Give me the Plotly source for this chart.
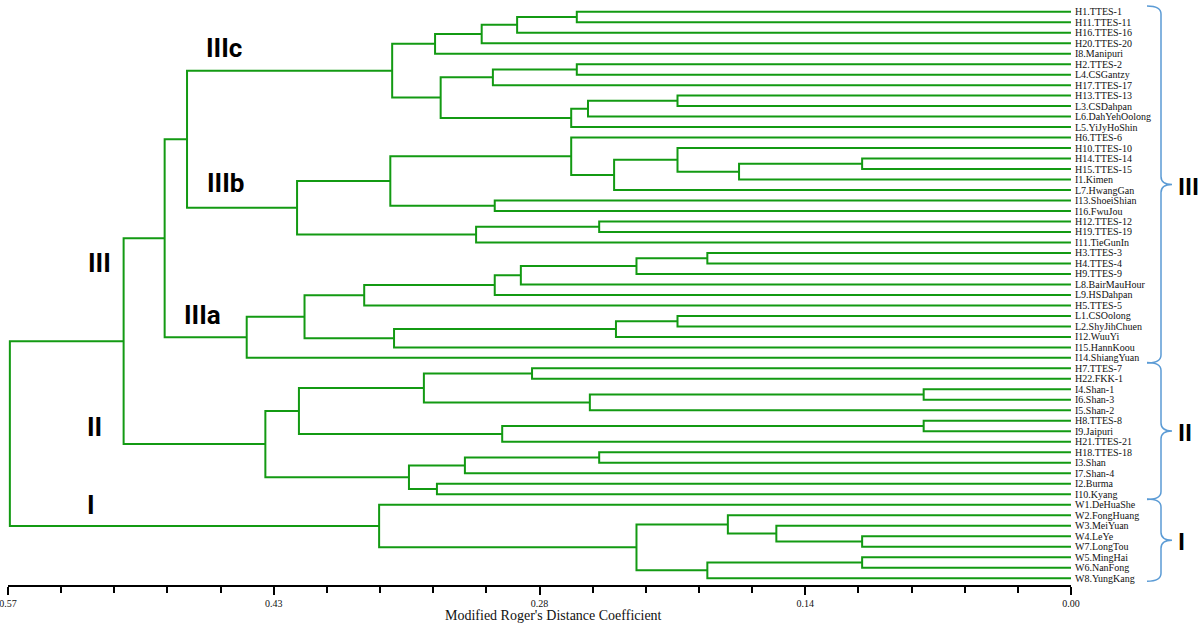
import plotly.graph_objects as go
import numpy as np

W, H = 1200, 624

# ---------------- data ----------------
leaves = [
    "H1.TTES-1", "H11.TTES-11", "H16.TTES-16", "H20.TTES-20", "I8.Manipuri",
    "H2.TTES-2", "L4.CSGantzy", "H17.TTES-17", "H13.TTES-13", "L3.CSDahpan",
    "L6.DahYehOolong", "L5.YiJyHoShin", "H6.TTES-6", "H10.TTES-10", "H14.TTES-14",
    "H15.TTES-15", "I1.Kimen", "L7.HwangGan", "I13.ShoeiShian", "I16.FwuJou",
    "H12.TTES-12", "H19.TTES-19", "I11.TieGunIn", "H3.TTES-3", "H4.TTES-4",
    "H9.TTES-9", "L8.BairMauHour", "L9.HSDahpan", "H5.TTES-5", "L1.CSOolong",
    "L2.ShyJihChuen", "I12.WuuYi", "I15.HannKoou", "I14.ShiangYuan", "H7.TTES-7",
    "H22.FKK-1", "I4.Shan-1", "I6.Shan-3", "I5.Shan-2", "H8.TTES-8",
    "I9.Jaipuri", "H21.TTES-21", "H18.TTES-18", "I3.Shan", "I7.Shan-4",
    "I2.Burma", "I10.Kyang", "W1.DeHuaShe", "W2.FongHuang", "W3.MeiYuan",
    "W4.LeYe", "W7.LongTou", "W5.MingHai", "W6.NanFong", "W8.YungKang",
]

merge_id = ["c1", "c2", "c3", "c4", "c5", "c6", "c7", "c8", "c9", "c10", "IIIc",
            "b1", "b2", "b3", "b4", "b5", "b6", "b7", "b8", "b9", "IIIb", "IIIcb",
            "a1", "a2", "a3", "a4", "a5", "a6", "a7", "a8", "a9", "IIIa", "III",
            "d1", "d2", "d3", "d4", "d5", "d6", "d7", "d8", "d9", "d10", "d11", "II", "III_II",
            "w1", "w2", "w3", "w4", "w5", "w6", "I", "root"]
merge_a = ["H1", "c1", "c2", "c3", "H2", "c5", "H13", "c7", "c8", "c6", "c4",
           "H14", "b1", "H10", "b3", "H6", "I13", "b5", "H12", "b8", "b7", "IIIc",
           "H3", "a1", "a2", "a3", "a4", "L1", "a6", "a7", "a5", "a9", "IIIcb",
           "H7", "I4", "d2", "d1", "H8", "d5", "d4", "H18", "d8", "I2", "d9", "d7", "III",
           "W4", "W3", "W2", "W5", "w4", "w3", "W1", "III_II"]
merge_b = ["H11", "H16", "H20", "I8", "L4", "H17", "L3", "L6", "L5", "c9", "c10",
           "H15", "I1", "b2", "L7", "b4", "I16", "b6", "H19", "I11", "b9", "IIIb",
           "H4", "H9", "L8", "L9", "H5", "L2", "I12", "I15", "a8", "I14", "IIIa",
           "H22", "I6", "I5", "d3", "I9", "H21", "d6", "I3", "I7", "I10", "d10", "d11", "II",
           "W7", "w1", "w2", "W6", "W8", "w5", "w6", "I"]
merge_h = [0.265, 0.297, 0.316, 0.341, 0.265, 0.310, 0.211, 0.259, 0.268, 0.338, 0.364,
           0.112, 0.178, 0.211, 0.245, 0.268, 0.309, 0.365, 0.253, 0.319, 0.415, 0.474,
           0.195, 0.233, 0.295, 0.309, 0.379, 0.211, 0.244, 0.363, 0.411, 0.442, 0.486,
           0.289, 0.079, 0.258, 0.347, 0.079, 0.305, 0.414, 0.253, 0.325, 0.340, 0.355, 0.432, 0.508,
           0.112, 0.158, 0.184, 0.112, 0.195, 0.233, 0.371, 0.569]

tick_vals = [0.57, 0.4275, 0.285, 0.1425, 0.0]
tick_text = ["0.57", "0.43", "0.28", "0.14", "0.00"]

sub_clusters = ["IIIc", "IIIb", "III", "IIIa", "II", "I"]
groups = ["III", "II", "I"]
group_first = ["H1", "H7", "W1"]
group_last = ["I14", "I10", "W8"]

# ---------------- build dendrogram ----------------
ids = [s.split(".")[0] for s in leaves]
pos = {k: i for i, k in enumerate(ids)}
hgt = {k: 0.0 for k in ids}
xs, ys = [], []
for nid, a, b, h in zip(merge_id, merge_a, merge_b, merge_h):
    ya, yb = pos[a], pos[b]
    xs += [hgt[a], h, h, hgt[b], None]
    ys += [ya, ya, yb, yb, None]
    pos[nid] = (ya + yb) / 2.0
    hgt[nid] = h

GREEN = "#139a13"
fig = go.Figure()
fig.add_trace(go.Scatter(x=xs, y=ys, mode="lines",
                         line=dict(color=GREEN, width=2),
                         hoverinfo="skip", showlegend=False))

# pixel geometry
X0, X1 = 8, 1071          # axis extent in px
Y_AXIS = 585              # axis line px
LEAF0, LEAF_STEP = 11.7, 10.49
top_val = -LEAF0 / LEAF_STEP
bot_val = (Y_AXIS - LEAF0) / LEAF_STEP


def px(x):
    return x / W


def py(y):
    return 1 - y / H


def leaf_px(v):
    return LEAF0 + LEAF_STEP * v


annotations = []
SERIF = "Liberation Serif"
for i, lab in enumerate(leaves):
    annotations.append(dict(x=0, y=i, xref="x", yref="y", text=lab, showarrow=False,
                            xanchor="left", yanchor="middle", xshift=2,
                            font=dict(family=SERIF, size=10, color="#111")))

annotations.append(dict(x=px(553), y=py(615), xref="paper", yref="paper",
                        text="Modified Roger's Distance Coefficient", showarrow=False,
                        xanchor="center", yanchor="middle",
                        font=dict(family=SERIF, size=14, color="#111")))

# sub-cluster labels on the tree
label_xy = {"IIIc": (204, 48), "IIIb": (205, 183), "III": (86, 263),
            "IIIa": (182, 315), "II": (85, 427), "I": (85, 505)}
BOLD = dict(family="Roboto", size=26, color="black")
BOLD_R = dict(family="Roboto", size=24, color="black")
for name in sub_clusters:
    lx, ly = label_xy[name]
    annotations.append(dict(x=px(lx), y=py(ly), xref="paper", yref="paper",
                            text="<b>%s</b>" % name, showarrow=False,
                            xanchor="left", yanchor="middle", font=BOLD))

# braces on the right
shapes = []
BLUE = "#5b9bd5"
XV, XE, XT, R = 1161, 1147, 1172, 8


def brace(y0, y1):
    ym = (y0 + y1) / 2.0
    pts = [("M", [(XE, y0)]),
           ("Q", [(XV, y0), (XV, y0 + R)]),
           ("L", [(XV, ym - R)]),
           ("Q", [(XV, ym), (XT, ym)]),
           ("Q", [(XV, ym), (XV, ym + R)]),
           ("L", [(XV, y1 - R)]),
           ("Q", [(XV, y1), (XE, y1)])]
    s = ""
    for cmd, pl in pts:
        s += cmd + " " + " ".join("%.5f,%.5f" % (px(a), py(b)) for a, b in pl) + " "
    return s.strip(), ym


for g, f, l in zip(groups, group_first, group_last):
    y0 = leaf_px(pos[f] - 0.55)
    y1 = leaf_px(pos[l] + (0.3 if l == ids[-1] else 0.5))
    path, ym = brace(y0, y1)
    shapes.append(dict(type="path", path=path, xref="paper", yref="paper",
                       line=dict(color=BLUE, width=1.5)))
    annotations.append(dict(x=px(1176), y=py(ym + 2), xref="paper", yref="paper",
                            text="<b>%s</b>" % g, showarrow=False,
                            xanchor="left", yanchor="middle", font=BOLD_R))

minor_vals = list(np.linspace(0, 0.57, 21))

fig.update_layout(
    width=W, height=H,
    margin=dict(l=0, r=0, t=0, b=0, autoexpand=False),
    paper_bgcolor="white", plot_bgcolor="white",
    xaxis=dict(range=[0.57, 0.0], domain=[X0 / W, X1 / W], automargin=False,
               showline=True, linecolor="black", linewidth=2,
               ticks="outside", ticklen=8, tickwidth=1.5, tickcolor="black",
               tickmode="array", tickvals=tick_vals, ticktext=tick_text,
               ticklabeloverflow="allow",
               tickfont=dict(family=SERIF, size=10, color="#111"),
               minor=dict(tickvals=minor_vals, ticks="outside", ticklen=6,
                          tickwidth=1.5, tickcolor="black", showgrid=False),
               showgrid=False, zeroline=False, fixedrange=True),
    yaxis=dict(range=[bot_val, top_val], domain=[(H - Y_AXIS) / H, 1], automargin=False,
               visible=False, showgrid=False, zeroline=False, fixedrange=True),
    annotations=annotations,
    shapes=shapes,
    showlegend=False,
)

fig.write_html("out.html", config={"displayModeBar": False},
               post_script="document.body.style.margin='0';document.body.style.overflow='hidden';")
